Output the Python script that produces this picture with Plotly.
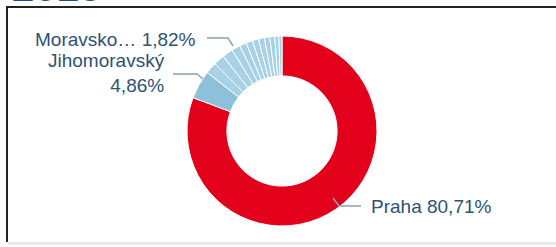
import plotly.graph_objects as go

W, H = 556, 247

regions = ["Praha", "Jihomoravský", "Středočeský", "Plzeňský", "Moravskoslezský",
           "Ústecký", "Olomoucký", "Královéhradecký", "Liberecký", "Zlínský",
           "Pardubický", "Jihočeský", "Vysočina", "Karlovarský"]
shares = [80.71, 4.86, 1.95, 1.88, 1.82, 1.45, 1.20, 1.10, 1.05, 1.00, 0.90, 0.85, 0.70, 0.53]
colors = ["#e2001a", "#8fc0da"] + ["#a6d1e6"] * 12

title_text = "2018"


def px(x):
    return x / W


def py(y):
    return 1 - y / H


cx, cy, r = 282, 131, 95

fig = go.Figure(go.Pie(
    labels=regions, values=shares, sort=False, direction="clockwise", rotation=0,
    hole=0.58, marker=dict(colors=colors, line=dict(color="white", width=1)),
    textinfo="none", hoverinfo="label+percent", showlegend=False,
    domain=dict(x=[px(cx - r), px(cx + r)], y=[py(cy + r), py(cy - r)]),
))

line_col = "#8aa0b4"
label_col = "#2f5275"
font = dict(family="Liberation Sans, Arial, sans-serif", size=19, color=label_col)

shapes = []


def conn(points):
    path = "M " + " L ".join(f"{px(x)},{py(y)}" for x, y in points)
    shapes.append(dict(type="path", xref="paper", yref="paper", path=path,
                       line=dict(color=line_col, width=1.5)))


conn([(207, 38), (228, 38), (233, 46)])
conn([(173, 74), (197, 74), (203, 79)])
conn([(333, 198), (339, 206), (361, 206)])

# frame
shapes.append(dict(type="line", xref="paper", yref="paper", x0=px(7), x1=px(560), y0=py(7), y1=py(7),
                   line=dict(color="#222222", width=2)))
shapes.append(dict(type="line", xref="paper", yref="paper", x0=px(7), x1=px(7), y0=py(6), y1=py(242),
                   line=dict(color="#222222", width=2)))
shapes.append(dict(type="line", xref="paper", yref="paper", x0=px(8), x1=px(560), y0=py(243.5), y1=py(243.5),
                   line=dict(color="#e8e8e8", width=3)))

annotations = [
    dict(text="Moravsko… 1,82%", x=px(198), y=py(39), xanchor="right", yanchor="middle",
         showarrow=False, font=font, xref="paper", yref="paper"),
    dict(text="Jihomoravský<br>4,86%", x=px(167), y=py(73), xanchor="right", yanchor="middle",
         align="right", showarrow=False, font=font, xref="paper", yref="paper"),
    dict(text="Praha 80,71%", x=px(369), y=py(206), xanchor="left", yanchor="middle",
         showarrow=False, font=font, xref="paper", yref="paper"),
    dict(text=f"<b>{title_text}</b>", x=px(10), y=py(11), xanchor="left", yanchor="bottom",
         showarrow=False, xref="paper", yref="paper",
         font=dict(family="Liberation Sans, Arial, sans-serif", size=40, color="#1d4f8c")),
]

fig.update_layout(
    width=W, height=H, margin=dict(l=0, r=0, t=0, b=0),
    paper_bgcolor="white", plot_bgcolor="white",
    shapes=shapes, annotations=annotations,
)

fig.write_html("out.html", config={"displayModeBar": False},
               post_script="document.body.style.margin='0';")
